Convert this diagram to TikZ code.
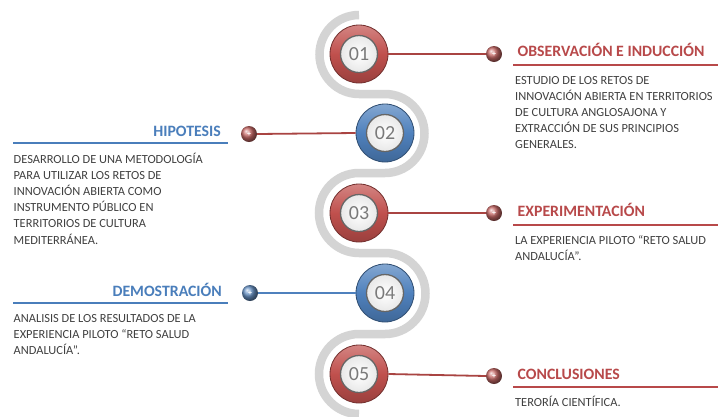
\documentclass[tikz,border=0pt]{standalone}
\usepackage{fontspec}
\setmainfont{Carlito}
\usetikzlibrary{calc}

\definecolor{ringred}{HTML}{C0504D}
\definecolor{ringblue}{HTML}{4F81BD}
\definecolor{linkred}{HTML}{A94442}
\definecolor{titlered}{HTML}{B8494A}
\definecolor{titleblue}{HTML}{4A7EBB}
\definecolor{bodygray}{HTML}{404040}
\definecolor{numgray}{HTML}{7A7A7A}
\definecolor{trackgray}{HTML}{D4D4D4}

\tikzset{
  ring/.style={circle, minimum size=58pt, inner sep=0pt, draw=#1!60!black, line width=0.8pt,
    top color=#1!70!white, bottom color=#1!80!black, middle color=#1},
  numdisk/.style={circle, minimum size=37pt, inner sep=0pt, draw=gray!80!black, line width=1.3pt,
    inner color=white, outer color=gray!18, text=numgray, font=\fontsize{20}{20}\selectfont},
  knob/.style={circle, minimum size=16pt, inner sep=0pt, ball color=#1!85!white, text=white,
    font=\bfseries\fontsize{8}{8}\selectfont},
  link/.style={line width=1.8pt, draw=#1},
  rtitle/.style={anchor=base west, inner sep=0pt, text=titlered, font=\bfseries\fontsize{15.8}{15.8}\selectfont},
  ltitle/.style={anchor=base east, inner sep=0pt, text=titleblue, font=\bfseries\fontsize{15.8}{15.8}\selectfont},
  % multi-line blocks: the base anchor sits on the last line
  body/.style={anchor=base west, inner sep=0pt, align=left, text=bodygray,
    font=\fontsize{12.4}{16.2}\selectfont},
  rule/.style={line width=2pt, draw=#1},
}

\begin{document}
\begin{tikzpicture}[x=1pt, y=-1pt]
\useasboundingbox (0,0) rectangle (718,416);
\fill[white] (0,0) rectangle (718,416);

% grey serpentine track behind the numbered rings (y axis points down)
\draw[trackgray, line width=8.5pt]
  (359,15) arc[start angle=-90, end angle=-270, radius=39.5]
  -- (385,94) arc[start angle=-90, end angle=90, radius=39.5]
  -- (359,173) arc[start angle=-90, end angle=-270, radius=40]
  -- (385,253) arc[start angle=-90, end angle=90, radius=40.5]
  -- (359,334) arc[start angle=-90, end angle=-270, radius=40];

% numbered rings
\node[ring=ringred]  (c1) at (359,54)  {};
\node[ring=ringblue] (c2) at (385,133) {};
\node[ring=ringred]  (c3) at (359,213) {};
\node[ring=ringblue] (c4) at (385,293) {};
\node[ring=ringred]  (c5) at (359,374) {};
\node[numdisk] (n1) at (c1) {01};
\node[numdisk] (n2) at (c2) {02};
\node[numdisk] (n3) at (c3) {03};
\node[numdisk] (n4) at (c4) {04};
\node[numdisk] (n5) at (c5) {05};

% knobs at the end of each link
\node[knob=ringred]  (k1) at (494,54)  {+};
\node[knob=ringred]  (k2) at (249,134) {+};
\node[knob=ringred]  (k3) at (494,213) {+};
\node[knob=ringblue] (k4) at (250,293) {+};
\node[knob=ringred]  (k5) at (494,376) {+};

% links
\draw[link=linkred]  (c1.east) -- (k1.west);
\draw[link=linkred]  (c2.west) -- (k2.east);
\draw[link=linkred]  (c3.east) -- (k3.west);
\draw[link=ringblue] (c4.west) -- (k4.east);
\draw[link=linkred]  (c5.east) -- (k5.west);

% right-hand entries
\node[rtitle] (t1) at (517.5,56.7) {OBSERVACIÓN E INDUCCIÓN};
\coordinate (u1a) at (513,64.5);
\coordinate (u1b) at (718,64.5);
\draw[rule=titlered] (u1a) -- (u1b);
\node[body] (d1) at (515,148.8) {ESTUDIO DE LOS RETOS DE\\INNOVACIÓN ABIERTA EN TERRITORIOS\\DE CULTURA ANGLOSAJONA Y\\EXTRACCIÓN DE SUS PRINCIPIOS\\GENERALES.};

\node[rtitle] (t3) at (517.5,216.5) {EXPERIMENTACIÓN};
\coordinate (u3a) at (513,224.5);
\coordinate (u3b) at (718,224.5);
\draw[rule=titlered] (u3a) -- (u3b);
\node[body] (d3) at (515,260.2) {LA EXPERIENCIA PILOTO “RETO SALUD\\ANDALUCÍA”.};

\node[rtitle] (t5) at (517.5,379) {CONCLUSIONES};
\coordinate (u5a) at (513,387);
\coordinate (u5b) at (718,387);
\draw[rule=titlered] (u5a) -- (u5b);
\node[body] (d5) at (515,406) {TERORÍA CIENTÍFICA.};

% left-hand entries
\node[ltitle] (t2) at (221,136.5) {HIPOTESIS};
\coordinate (u2a) at (13,143);
\coordinate (u2b) at (228,143);
\draw[rule=titleblue] (u2a) -- (u2b);
\node[body] (d2) at (13.5,244) {DESARROLLO DE UNA METODOLOGÍA\\PARA UTILIZAR LOS RETOS DE\\INNOVACIÓN ABIERTA COMO\\INSTRUMENTO PÚBLICO EN\\TERRITORIOS DE CULTURA\\MEDITERRÁNEA.};

\node[ltitle] (t4) at (222,296) {DEMOSTRACIÓN};
\coordinate (u4a) at (13,303);
\coordinate (u4b) at (228,303);
\draw[rule=titleblue] (u4a) -- (u4b);
\node[body] (d4) at (13.5,354.4) {ANALISIS DE LOS RESULTADOS DE LA\\EXPERIENCIA PILOTO “RETO SALUD\\ANDALUCÍA”.};
\end{tikzpicture}
\end{document}
